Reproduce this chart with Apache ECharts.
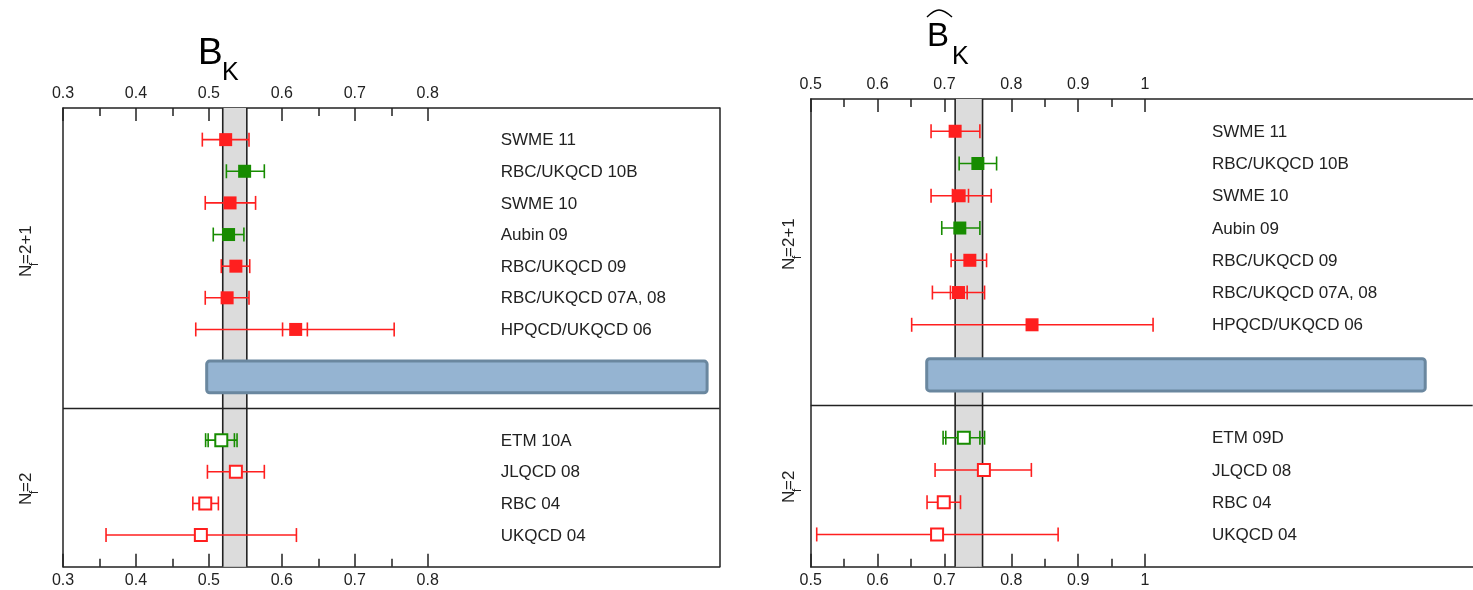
<!DOCTYPE html>
<html>
<head>
<meta charset="utf-8">
<script src="https://cdn.jsdelivr.net/npm/echarts@6/dist/echarts.min.js"></script>
<style>
  html, body { margin: 0; padding: 0; background: #fff; }
  #chart { width: 1473px; height: 590px; }
</style>
</head>
<body>
<div id="chart"></div>
<script>
// row positions on the (inverted) y scale: 7 rows Nf=2+1, then 4 rows Nf=2
const rowPos = [1, 2, 3, 4, 5, 6, 7, 10.5, 11.5, 12.5, 13.5]
const rowColor = ['r', 'g', 'r', 'g', 'r', 'r', 'r', 'g', 'r', 'r', 'r']
const rowFilled = [1, 1, 1, 1, 1, 1, 1, 0, 0, 0, 0]

const labelsLeft = ['SWME 11', 'RBC/UKQCD 10B', 'SWME 10', 'Aubin 09', 'RBC/UKQCD 09', 'RBC/UKQCD 07A, 08', 'HPQCD/UKQCD 06',
  'ETM 10A', 'JLQCD 08', 'RBC 04', 'UKQCD 04']
const labelsRight = ['SWME 11', 'RBC/UKQCD 10B', 'SWME 10', 'Aubin 09', 'RBC/UKQCD 09', 'RBC/UKQCD 07A, 08', 'HPQCD/UKQCD 06',
  'ETM 09D', 'JLQCD 08', 'RBC 04', 'UKQCD 04']

// B_K (left panel)
const bkCentral = [0.523, 0.549, 0.529, 0.527, 0.537, 0.525, 0.619, 0.517, 0.537, 0.495, 0.489]
const bkLow = [0.491, 0.524, 0.495, 0.506, 0.517, 0.495, 0.482, 0.4955, 0.498, 0.478, 0.359]
const bkHigh = [0.555, 0.576, 0.564, 0.548, 0.556, 0.555, 0.754, 0.5386, 0.576, 0.513, 0.620]
const bkInnerLow = [null, null, null, null, null, null, 0.601, 0.499, null, null, null]
const bkInnerHigh = [null, null, null, null, null, null, 0.635, 0.535, null, null, null]
const bkBand = [0.519, 0.552]
const bkBox = [0.497, 1.183, 8, 9]

// hat B_K (right panel)
const bhCentral = [0.716, 0.750, 0.722, 0.723, 0.738, 0.721, 0.831, 0.729, 0.759, 0.699, 0.689]
const bhLow = [0.680, 0.722, 0.680, 0.696, 0.710, 0.682, 0.651, 0.698, 0.686, 0.674, 0.509]
const bhHigh = [0.753, 0.778, 0.770, 0.753, 0.763, 0.760, 1.012, 0.760, 0.830, 0.724, 0.870]
const bhInnerLow = [null, null, 0.712, null, null, 0.709, null, 0.702, null, null, null]
const bhInnerHigh = [null, null, 0.736, null, null, 0.734, null, 0.753, null, null, null]
const bhBand = [0.716, 0.757]
const bhBox = [0.6735, 1.419, 8.05, 9.05]

const leftMajorTicks = [0.3, 0.4, 0.5, 0.6, 0.7, 0.8]
const leftMinorTicks = [0.35, 0.45, 0.55, 0.65, 0.75]
const rightMajorTicks = [0.5, 0.6, 0.7, 0.8, 0.9, 1]
const rightMinorTicks = [0.55, 0.65, 0.75, 0.85, 0.95]

const RED = '#ff1f1f'
const GREEN = '#178c00'
const INK = '#222'
const FONT = '"Liberation Sans", Arial, sans-serif'
const Y_MIN = 0
const Y_MAX = 14.5
const SEP_Y = 9.5

const chart = echarts.init(document.getElementById('chart'))

const makeXAxes = (grid, min, max, major, minor) => {
  const base = {
    gridIndex: grid, type: 'value', min, max,
    splitLine: { show: false },
  }
  const majorAxis = (position) => ({
    ...base, position,
    axisLine: { show: true, lineStyle: { color: INK, width: 1.5 } },
    axisTick: { show: true, inside: true, length: 13, customValues: major, lineStyle: { color: INK, width: 1.5 } },
    axisLabel: { show: true, customValues: major, margin: 6, color: INK, fontSize: 16, fontFamily: FONT },
  })
  const minorAxis = (position) => ({
    ...base, position,
    axisLine: { show: false },
    axisTick: { show: true, inside: true, length: 8, customValues: minor, lineStyle: { color: INK, width: 1.5 } },
    axisLabel: { show: false },
  })
  return [majorAxis('top'), minorAxis('top'), majorAxis('bottom'), minorAxis('bottom')]
}

const frameY = (grid, position) => ({
  gridIndex: grid, type: 'value', min: Y_MIN, max: Y_MAX, inverse: true, position,
  axisLine: { show: true, lineStyle: { color: INK, width: 1.5 } },
  axisTick: { show: false }, axisLabel: { show: false }, splitLine: { show: false },
})

const panelSeries = (xIdx, yIdx, p) => {
  const common = { type: 'custom', xAxisIndex: xIdx, yAxisIndex: yIdx, silent: true, clip: false }
  return [
    {
      ...common, z: 1, data: [[p.band[0], p.band[1]]],
      renderItem: (params, api) => {
        const a = api.coord([p.band[0], Y_MIN])
        const b = api.coord([p.band[1], Y_MAX])
        return {
          type: 'group', children: [
            { type: 'rect', shape: { x: a[0], y: a[1], width: b[0] - a[0], height: b[1] - a[1] }, style: { fill: '#dcdcdc' } },
            { type: 'line', shape: { x1: a[0], y1: a[1], x2: a[0], y2: b[1] }, style: { stroke: INK, lineWidth: 1.6 } },
            { type: 'line', shape: { x1: b[0], y1: a[1], x2: b[0], y2: b[1] }, style: { stroke: INK, lineWidth: 1.6 } },
          ],
        }
      },
    },
    {
      ...common, z: 2, data: [[p.xMin, SEP_Y]],
      renderItem: (params, api) => {
        const a = api.coord([p.xMin, SEP_Y])
        const b = api.coord([p.xMax, SEP_Y])
        return { type: 'line', shape: { x1: a[0], y1: a[1], x2: b[0], y2: b[1] }, style: { stroke: INK, lineWidth: 1.5 } }
      },
    },
    {
      ...common, z: 3, data: [[p.box[0], p.box[2]]],
      renderItem: (params, api) => {
        const a = api.coord([p.box[0], p.box[2]])
        const b = api.coord([p.box[1], p.box[3]])
        return {
          type: 'rect',
          shape: { x: a[0], y: a[1], width: b[0] - a[0], height: b[1] - a[1], r: 3 },
          style: { fill: '#95b4d2', stroke: '#6a879f', lineWidth: 3 },
        }
      },
    },
    {
      ...common, z: 4, data: rowPos.map((y, i) => [p.central[i], y]),
      renderItem: (params, api) => {
        const i = params.dataIndex
        const y = rowPos[i]
        const col = rowColor[i] === 'g' ? GREEN : RED
        const c = api.coord([p.central[i], y])
        const l = api.coord([p.low[i], y])
        const h = api.coord([p.high[i], y])
        const cap = (x) => ({ type: 'line', shape: { x1: x, y1: c[1] - 7, x2: x, y2: c[1] + 7 }, style: { stroke: col, lineWidth: 1.6 } })
        const children = [
          { type: 'line', shape: { x1: l[0], y1: c[1], x2: h[0], y2: c[1] }, style: { stroke: col, lineWidth: 1.6 } },
          cap(l[0]), cap(h[0]),
        ]
        if (p.innerLow[i] != null) children.push(cap(api.coord([p.innerLow[i], y])[0]))
        if (p.innerHigh[i] != null) children.push(cap(api.coord([p.innerHigh[i], y])[0]))
        if (rowFilled[i]) {
          children.push({ type: 'rect', shape: { x: c[0] - 6.5, y: c[1] - 6.5, width: 13, height: 13 }, style: { fill: col } })
        } else {
          children.push({ type: 'rect', shape: { x: c[0] - 6, y: c[1] - 6, width: 12, height: 12 }, style: { fill: '#fff', stroke: col, lineWidth: 2 } })
        }
        return { type: 'group', children }
      },
    },
    {
      ...common, z: 5, data: rowPos.map((y) => [p.labelX, y]),
      renderItem: (params, api) => {
        const i = params.dataIndex
        const pt = api.coord([p.labelX, rowPos[i]])
        return {
          type: 'text', x: pt[0], y: pt[1] + 1,
          style: { text: p.labels[i], fill: INK, font: '17px ' + FONT, align: 'left', verticalAlign: 'middle' },
        }
      },
    },
  ]
}

const groupLabel = (cx, cy, tail, width) => ({
  type: 'group', x: cx, y: cy, rotation: Math.PI / 2,
  children: [
    { type: 'text', x: -width / 2, y: 0, style: { text: 'N', font: '17px ' + FONT, fill: INK, align: 'left', verticalAlign: 'middle' } },
    { type: 'text', x: -width / 2 + 11, y: 9, style: { text: 'f', font: '12px ' + FONT, fill: INK, align: 'left', verticalAlign: 'middle' } },
    { type: 'text', x: -width / 2 + 13, y: 0, style: { text: tail, font: '17px ' + FONT, fill: INK, align: 'left', verticalAlign: 'middle' } },
  ],
})

const option = {
  animation: false,
  backgroundColor: '#fff',
  grid: [
    { left: 63, top: 108, width: 656.5, height: 458.7 },
    { left: 810.7, top: 99, width: 662, height: 467.7 },
  ],
  xAxis: [
    ...makeXAxes(0, 0.3, 1.2, leftMajorTicks, leftMinorTicks),
    ...makeXAxes(1, 0.5, 1.49, rightMajorTicks, rightMinorTicks),
  ],
  yAxis: [
    frameY(0, 'left'),
    frameY(0, 'right'),
    frameY(1, 'left'),
  ],
  graphic: [
    { type: 'text', x: 198, y: 54, style: { text: 'B', font: '37px ' + FONT, fill: '#000', align: 'left', verticalAlign: 'middle' } },
    { type: 'text', x: 222, y: 73, style: { text: 'K', font: '25px ' + FONT, fill: '#000', align: 'left', verticalAlign: 'middle' } },
    { type: 'text', x: 927, y: 37, style: { text: 'B', font: '33px ' + FONT, fill: '#000', align: 'left', verticalAlign: 'middle' } },
    { type: 'text', x: 952, y: 57, style: { text: 'K', font: '25px ' + FONT, fill: '#000', align: 'left', verticalAlign: 'middle' } },
    { type: 'polyline', shape: { points: [[927, 17], [939, 10], [952, 17]], smooth: 0.4 }, style: { stroke: '#000', lineWidth: 1.5, fill: null } },
    groupLabel(26, 250, '=2+1', 54),
    groupLabel(26, 488, '=2', 34),
    groupLabel(789, 243, '=2+1', 54),
    groupLabel(789, 486, '=2', 34),
  ],
  series: [
    ...panelSeries(0, 0, {
      xMin: 0.3, xMax: 1.2, band: bkBand, box: bkBox, labelX: 0.9, labels: labelsLeft,
      central: bkCentral, low: bkLow, high: bkHigh, innerLow: bkInnerLow, innerHigh: bkInnerHigh,
    }),
    ...panelSeries(4, 2, {
      xMin: 0.5, xMax: 1.49, band: bhBand, box: bhBox, labelX: 1.1, labels: labelsRight,
      central: bhCentral, low: bhLow, high: bhHigh, innerLow: bhInnerLow, innerHigh: bhInnerHigh,
    }),
  ],
}

chart.setOption(option)
</script>
</body>
</html>
